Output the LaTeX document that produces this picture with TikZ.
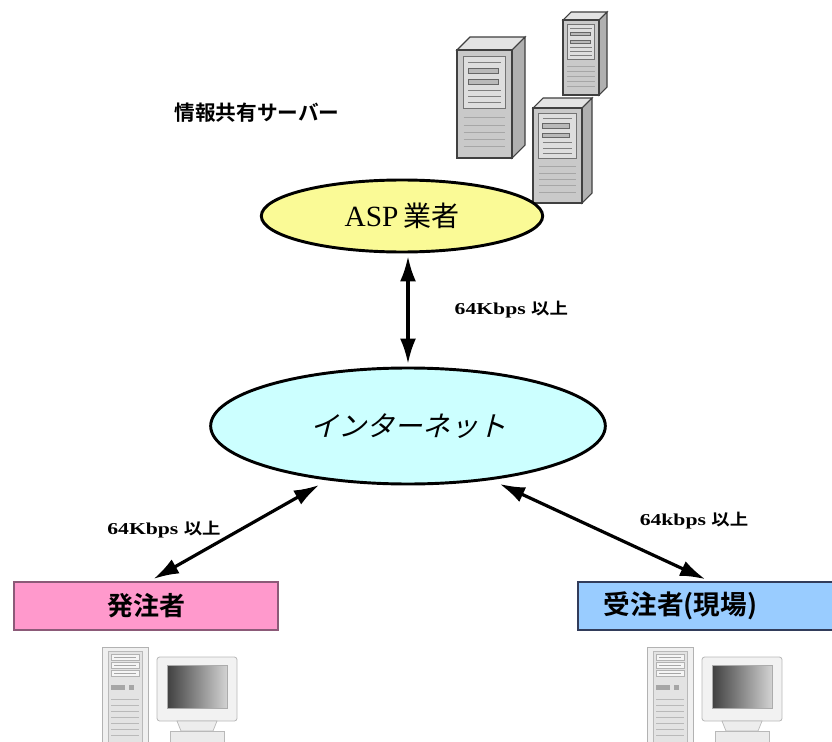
\documentclass[tikz,border=0pt]{standalone}
\usepackage{fontspec}
\setmainfont{Liberation Serif}
\newfontfamily\jp{Noto Sans CJK JP}
\newfontfamily\jpbold{Noto Sans CJK JP Bold}
\newfontfamily\jpslant[FakeSlant=0.25]{Noto Sans CJK JP}
\newfontfamily\ratelatin[FakeStretch=1.3]{Liberation Serif Bold}
\newfontfamily\ratejp[FakeStretch=1.15]{Noto Sans CJK JP Bold}
\usetikzlibrary{shapes.geometric,arrows.meta}

\definecolor{aspfill}{RGB}{250,250,150}
\definecolor{netfill}{RGB}{204,255,255}
\definecolor{ordfill}{RGB}{255,153,204}
\definecolor{ordline}{RGB}{140,90,120}
\definecolor{confill}{RGB}{153,204,255}
\definecolor{conline}{RGB}{50,60,90}

% server tower: left x, top y, front width, total height, depth
\newcommand\srvtower[5]{%
\begin{scope}[shift={(#1,#2)}]
\filldraw[fill=gray!22,draw=black!75,line width=0.8pt] (0,#5) -- (#5,0) -- (#3+#5,0) -- (#3,#5) -- cycle;
\filldraw[fill=gray!62,draw=black!75,line width=0.8pt] (#3,#5) -- (#3+#5,0) -- (#3+#5,#4-#5) -- (#3,#4) -- cycle;
\filldraw[fill=gray!42,draw=black!75,line width=0.8pt] (0,#5) rectangle (#3,#4);
\filldraw[fill=gray!26,draw=black!55,line width=0.6pt] (0.12*#3,#5+0.05*#4) rectangle (0.88*#3,#5+0.48*#4);
\filldraw[fill=gray!55,draw=black!60,line width=0.5pt] (0.2*#3,#5+0.15*#4) rectangle (0.75*#3,#5+0.19*#4);
\filldraw[fill=gray!55,draw=black!60,line width=0.5pt] (0.2*#3,#5+0.24*#4) rectangle (0.75*#3,#5+0.28*#4);
\foreach \f in {0.1,0.33,0.38,0.43}
  \draw[black!50,line width=0.5pt] (0.2*#3,#5+\f*#4) -- (0.8*#3,#5+\f*#4);
\foreach \f in {0.56,0.62,0.68,0.74,0.8}
  \draw[black!35,line width=0.5pt] (0.12*#3,#5+\f*#4) -- (0.88*#3,#5+\f*#4);
\end{scope}}

% desktop computer: tower at left x, top y, monitor beside it
\newcommand\desktoppc[2]{%
\begin{scope}[shift={(#1,#2)}]
\filldraw[fill=gray!12,draw=gray!60,line width=0.6pt] (0,0) rectangle (46,100);
\filldraw[fill=gray!22,draw=gray!55,line width=0.5pt] (6,4) rectangle (40,100);
\foreach \yy in {7,15,23} {
  \filldraw[fill=gray!8,draw=gray!60,line width=0.5pt] (9,\yy) rectangle (37,\yy+6);
  \draw[gray!70,line width=0.6pt] (12,\yy+3) -- (34,\yy+3);}
\filldraw[fill=gray!70,draw=gray!70] (9,38) rectangle (22,42);
\filldraw[fill=gray!70,draw=gray!70] (27,38) rectangle (31,42);
\foreach \yy in {52,58,64,70,76,82,88}
  \draw[gray!55,line width=0.6pt] (9,\yy) -- (37,\yy);
\filldraw[fill=gray!10,draw=gray!55,line width=0.6pt,rounded corners=2pt] (55,10) rectangle (135,74);
\shade[left color=black!75,right color=gray!35] (65,18) rectangle (125,61);
\draw[gray!65,line width=0.6pt] (65,18) rectangle (125,61);
\filldraw[fill=gray!14,draw=gray!55,line width=0.5pt] (75,74) -- (115,74) -- (111,84) -- (79,84) -- cycle;
\filldraw[fill=gray!16,draw=gray!55,line width=0.5pt] (68,84) rectangle (122,96);
\end{scope}}

\begin{document}
\begin{tikzpicture}[x=0.75pt,y=-0.75pt,
  cloud/.style={ellipse,draw=black,line width=2.2pt,inner sep=0pt},
  party/.style={rectangle,line width=1.6pt,inner sep=0pt,minimum height=36pt},
  link/.style={line width=2.4pt,{Latex[length=19pt,width=12pt]}-{Latex[length=19pt,width=12pt]}},
  rate/.style={font=\ratelatin\fontsize{12.5}{14}\selectfont}]
\useasboundingbox (0,0) rectangle (832,742);
\clip (0,0) rectangle (832,742);
\fill[white] (0,0) rectangle (832,742);

% servers of the ASP provider
\srvtower{457}{37}{55}{121}{13}
\srvtower{563}{12}{36}{83}{8}
\srvtower{533}{98}{49}{105}{10}

\node[font=\jpbold\fontsize{15.5}{17}\selectfont] (srvlabel) at (257,113) {情報共有サーバー};

% provider and internet
\node[cloud,fill=aspfill,minimum width=211pt,minimum height=54pt] (asp) at (402,216)
  {\fontsize{22}{24}\selectfont ASP\,{\jp\fontsize{21}{24}\selectfont 業者}};
\node[cloud,fill=netfill,minimum width=296pt,minimum height=87pt] (inet) at (408,426)
  {\jpslant\fontsize{21}{24}\selectfont インターネット};

% the two parties
\node[party,draw=ordline,fill=ordfill,minimum width=198pt] (orderer) at (146,606)
  {\jpbold\fontsize{19.5}{22}\selectfont 発注者};
\node[party,draw=conline,fill=confill,minimum width=196pt,text width=158pt,
      inner xsep=19pt,align=left] (contractor) at (709,606)
  {\jpbold\fontsize{20}{22}\selectfont 受注者(現場)};

% links
\draw[link,shorten <=2pt,shorten >=2pt] (inet.north |- asp.south) -- (inet.north);
\draw[link,shorten <=3pt,shorten >=7pt] ([xshift=3pt]orderer.north) -- (inet.214);
\draw[link,shorten <=3pt,shorten >=7pt] (contractor.north) -- (inet.-33.5);

\node[rate,anchor=west] (rtop) at (450,310) {64Kbps {\ratejp\fontsize{12}{14}\selectfont 以上}};
\node[rate] (rleft) at (164,530) {64Kbps {\ratejp\fontsize{12}{14}\selectfont 以上}};
\node[rate] (rright) at (694,521) {64kbps {\ratejp\fontsize{12}{14}\selectfont 以上}};

% client computers
\desktoppc{102}{647}
\desktoppc{647}{647}
\end{tikzpicture}
\end{document}
